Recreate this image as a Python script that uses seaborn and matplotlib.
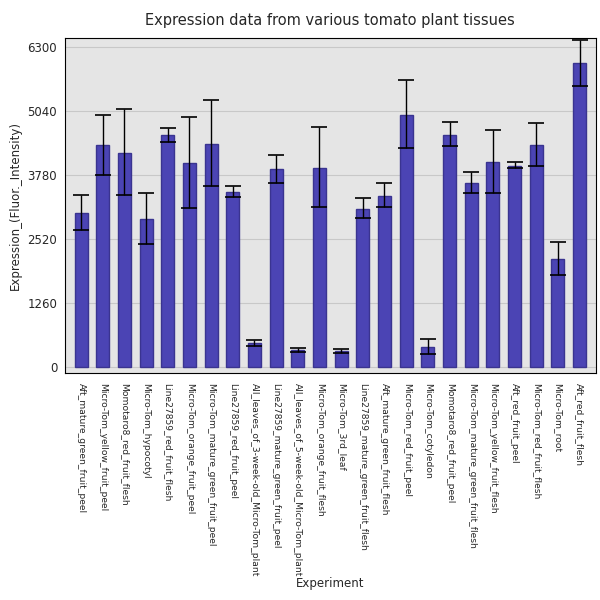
import matplotlib
matplotlib.use("Agg")
import matplotlib.pyplot as plt
import seaborn as sns
import numpy as np

tissues = ["Aft_mature_green_fruit_peel", "Micro-Tom_yellow_fruit_peel", "Momotaro8_red_fruit_flesh",
           "Micro-Tom_hypocotyl", "Line27859_red_fruit_flesh", "Micro-Tom_orange_fruit_peel",
           "Micro-Tom_mature_green_fruit_peel", "Line27859_red_fruit_peel",
           "All_leaves_of_3-week-old_Micro-Tom_plant", "Line27859_mature_green_fruit_peel",
           "All_leaves_of_5-week-old_Micro-Tom_plant", "Micro-Tom_orange_fruit_flesh",
           "Micro-Tom_3rd_leaf", "Line27859_mature_green_fruit_flesh", "Aft_mature_green_fruit_flesh",
           "Micro-Tom_red_fruit_peel", "Micro-Tom_cotyledon", "Momotaro8_red_fruit_peel",
           "Micro-Tom_mature_green_fruit_flesh", "Micro-Tom_yellow_fruit_flesh", "Aft_red_fruit_peel",
           "Micro-Tom_red_fruit_flesh", "Micro-Tom_root", "Aft_red_fruit_flesh"]
values = [3032, 4371, 4214, 2914, 4568, 4017, 4391, 3446, 473, 3899, 335, 3918,
          315, 3111, 3367, 4962, 394, 4568, 3623, 4036, 3958, 4371, 2126, 5986]
err_hi = [3386, 4962, 5080, 3426, 4706, 4922, 5257, 3564, 532, 4174, 374, 4726,
          354, 3328, 3623, 5651, 551, 4824, 3840, 4666, 4036, 4804, 2461, 6438]
err_lo = [2697, 3780, 3386, 2422, 4430, 3131, 3564, 3347, 413, 3623, 295, 3150,
          276, 2934, 3150, 4312, 256, 4351, 3426, 3426, 3918, 3958, 1811, 5533]
yticks = [0, 1260, 2520, 3780, 5040, 6300]

sns.set_style("darkgrid", {"axes.facecolor": "#e5e5e5", "grid.color": "#c8c8c8"})
fig = plt.figure(figsize=(6, 6), dpi=100)
ax = fig.add_axes([0.108, 0.378, 0.885, 0.558])
sns.barplot(x=tissues, y=values, color="#4b44b4", saturation=1, width=0.6, ax=ax)
for p in ax.patches:
    p.set_edgecolor("#3a3490")
v = np.array(values)
ax.errorbar(np.arange(len(v)), v, yerr=[v - np.array(err_lo), np.array(err_hi) - v],
            fmt="none", ecolor="black", capsize=6, elinewidth=1, capthick=1.2)
ax.set_ylim(-118, 6477)
ax.set_xlim(-0.75, len(v) - 0.25)
ax.set_yticks(yticks)
ax.set_yticklabels([str(t) for t in yticks], fontsize=8.5)
ax.tick_params(axis="y", pad=2)
ax.set_xticks(np.arange(len(v)))
ax.set_xticklabels(tissues, rotation=-90, fontsize=6.6, va="top", ha="center")
ax.set_xlabel("Experiment", fontsize=8.5)
ax.xaxis.set_label_coords(0.5, -0.61)
ax.set_ylabel("Expression_(Fluor._Intensity)", fontsize=8.5, labelpad=4)
ax.set_title("Expression data from various tomato plant tissues", fontsize=10.5, pad=10)
for s in ax.spines.values():
    s.set_visible(True)
    s.set_color("black")
    s.set_linewidth(0.8)
fig.savefig("out.png", dpi=100)
